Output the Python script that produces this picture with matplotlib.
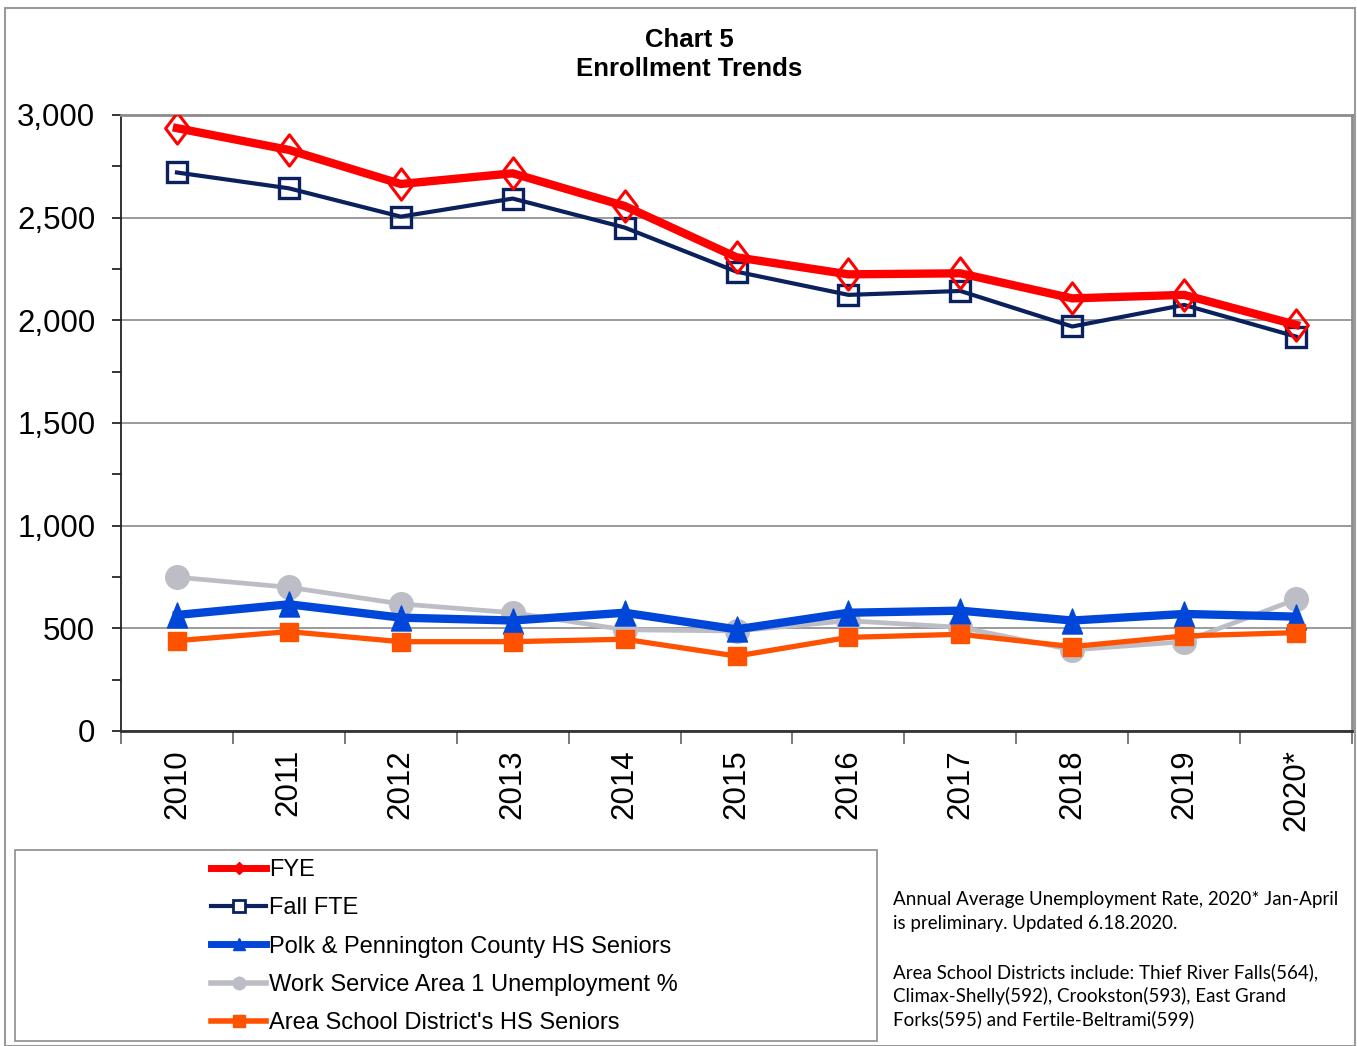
import matplotlib
matplotlib.use("Agg")
import matplotlib.pyplot as plt
from matplotlib.lines import Line2D
from matplotlib.patches import Rectangle
from matplotlib.path import Path
from matplotlib.ticker import MultipleLocator, FuncFormatter

years = ["2010", "2011", "2012", "2013", "2014", "2015", "2016", "2017", "2018", "2019", "2020*"]
fye = [2936, 2830, 2664, 2716, 2557, 2307, 2224, 2229, 2107, 2124, 1978]
fall_fte = [2720, 2643, 2505, 2593, 2452, 2237, 2124, 2143, 1970, 2075, 1921]
polk_seniors = [565, 617, 552, 538, 576, 495, 576, 586, 538, 570, 557]
unemployment = [749, 700, 619, 576, 493, 487, 537, 505, 395, 435, 641]
area_seniors = [440, 484, 435, 435, 447, 365, 456, 471, 411, 463, 479]

labels = ["FYE", "Fall FTE", "Polk & Pennington County HS Seniors",
          "Work Service Area 1 Unemployment %", "Area School District's HS Seniors"]

note_lines_1 = ["Annual Average Unemployment Rate, 2020* Jan-April",
                "is preliminary. Updated 6.18.2020."]
note_lines_2 = ["Area School Districts include: Thief River Falls(564),",
                "Climax-Shelly(592), Crookston(593), East Grand",
                "Forks(595) and Fertile-Beltrami(599)"]

RED = "#FF0000"
NAVY = "#0A215E"
BLUE = "#0047D9"
GRAY = "#BDBDC6"
ORANGE = "#FF5200"

plt.rcParams['font.family'] = ['Liberation Sans', 'DejaVu Sans']

W, H = 1357, 1046
fig = plt.figure(figsize=(W / 100, H / 100), dpi=100)

def fx(px):
    return px / W

def fy(py):
    return 1 - py / H

# outer frame
fig.patches.append(Rectangle((fx(5), fy(1046)), fx(1355) - fx(5), fy(8) - fy(1046),
                             transform=fig.transFigure, fill=False,
                             edgecolor="#9A9A9A", linewidth=1.5))

ax = fig.add_axes([fx(121), fy(731), fx(1352) - fx(121), fy(115) - fy(731)])

diamond = Path([(0, 1), (0.76, 0), (0, -1), (-0.76, 0), (0, 1)],
               [Path.MOVETO, Path.LINETO, Path.LINETO, Path.LINETO, Path.CLOSEPOLY])
tall_triangle = Path([(0, 1), (0.8, -1), (-0.8, -1), (0, 1)],
                     [Path.MOVETO, Path.LINETO, Path.LINETO, Path.CLOSEPOLY])

x = list(range(len(years)))
ax.plot(x, unemployment, color=GRAY, lw=3.4, marker='o', ms=17, mfc=GRAY, mec=GRAY, zorder=3)
ax.plot(x, polk_seniors, color=BLUE, lw=6, marker=tall_triangle, ms=18, mfc=BLUE, mec=BLUE, zorder=4)
ax.plot(x, area_seniors, color=ORANGE, lw=3.8, marker='s', ms=13, mfc=ORANGE, mec=ORANGE, zorder=5)
ax.plot(x, fall_fte, color=NAVY, lw=3, marker='s', ms=14, mfc='none', mec=NAVY, mew=2.4, zorder=6)
ax.plot(x, fye, color=RED, lw=6, marker=diamond, ms=22.5, mfc='none', mec=RED, mew=2.2, zorder=7)

ax.set_xlim(-0.5, len(years) - 0.5)
ax.set_ylim(0, 3000)
ax.yaxis.set_major_locator(MultipleLocator(500))
ax.yaxis.set_minor_locator(MultipleLocator(250))
ax.yaxis.set_major_formatter(FuncFormatter(lambda v, p: f"{int(v):,}"))
ax.grid(axis='y', which='major', color="#7F7F7F", lw=1.1)
ax.set_axisbelow(True)

ax.set_xticks(x)
ax.set_xticklabels(years, rotation=90, fontsize=22.5, va='top', ha='center')
ax.tick_params(axis='x', which='major', length=0, pad=13)
ax.set_xticks([i - 0.5 for i in range(len(years) + 1)], minor=True)
ax.tick_params(axis='x', which='minor', length=9, width=1.1, color="#555555", direction='out')
ax.tick_params(axis='y', which='both', length=6.5, width=1.1, direction='out', labelsize=22.5, pad=12)

for side in ['top', 'right']:
    ax.spines[side].set_color("#8C8C8C")
    ax.spines[side].set_linewidth(2)
ax.spines['left'].set_color("#222222")
ax.spines['left'].set_linewidth(1.3)
ax.spines['bottom'].set_color("#333333")
ax.spines['bottom'].set_linewidth(2)

fig.text(fx(689), fy(40), "Chart 5", ha='center', va='center', fontsize=18.5, fontweight='bold')
fig.text(fx(689), fy(69), "Enrollment Trends", ha='center', va='center', fontsize=18.5, fontweight='bold')

# legend box
fig.patches.append(Rectangle((fx(15), fy(1041)), fx(877) - fx(15), fy(850) - fy(1041),
                             transform=fig.transFigure, fill=False,
                             edgecolor="#8C8C8C", linewidth=1.2))

handles = [
    Line2D([], [], color=RED, lw=5, marker='D', ms=6, mfc=RED, mec=RED),
    Line2D([], [], color=NAVY, lw=3, marker='s', ms=8, mfc='white', mec=NAVY, mew=2),
    Line2D([], [], color=BLUE, lw=5, marker='^', ms=8, mfc=BLUE, mec=BLUE),
    Line2D([], [], color=GRAY, lw=4, marker='o', ms=9, mfc=GRAY, mec=GRAY),
    Line2D([], [], color=ORANGE, lw=4, marker='s', ms=9, mfc=ORANGE, mec=ORANGE),
]
fig.legend(handles, labels, loc='upper left', bbox_to_anchor=(fx(211), fy(859)),
           frameon=False, borderaxespad=0, borderpad=0, handlelength=2.35,
           handletextpad=0.1, labelspacing=0.69, fontsize=17)

note_font = ['Lato', 'DejaVu Sans']
for i, line in enumerate(note_lines_1):
    fig.text(fx(893), fy(899 + 25 * i), line, ha='left', va='center',
             fontsize=13.5, family=note_font)
for i, line in enumerate(note_lines_2):
    fig.text(fx(893), fy(972 + 23.5 * i), line, ha='left', va='center',
             fontsize=13.5, family=note_font)

fig.savefig("out.png", dpi=100)
